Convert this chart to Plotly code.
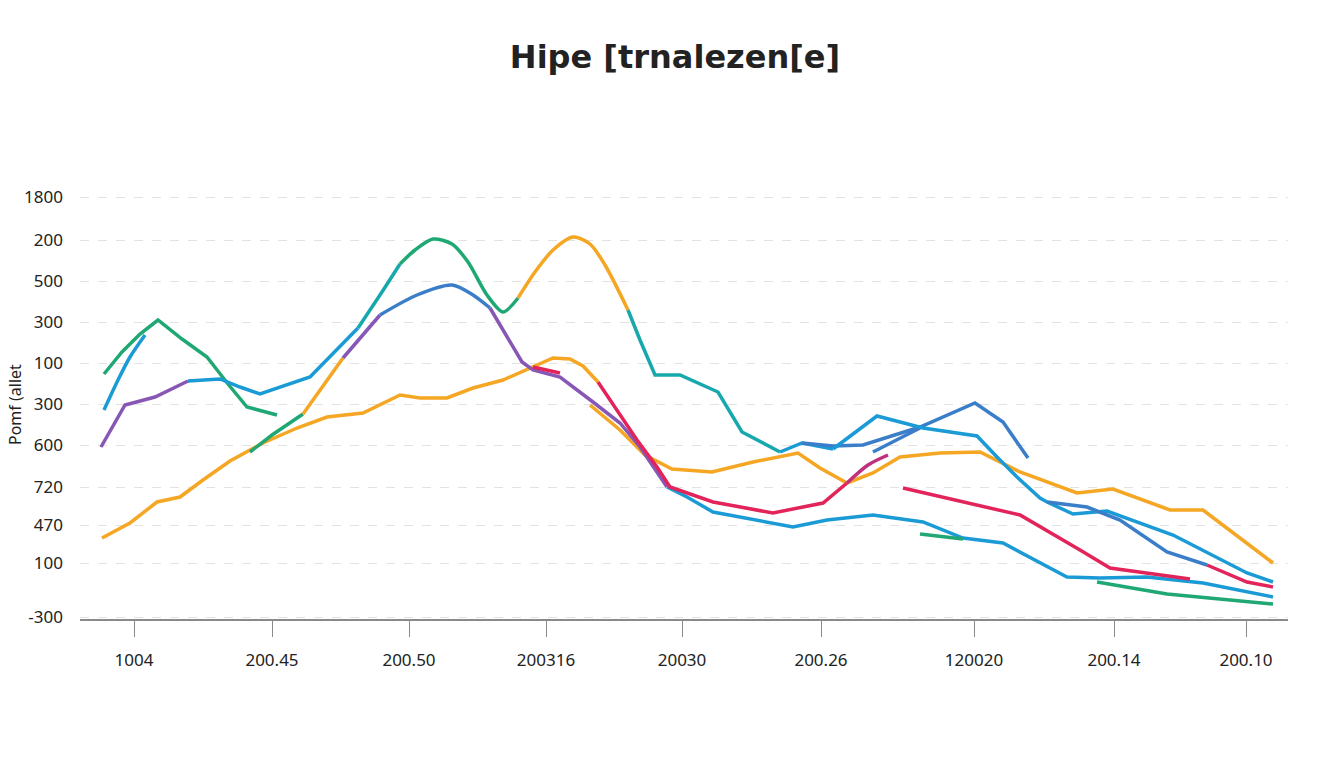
import plotly.graph_objects as go

# ---- axis tick labels (as printed on the chart) ----
x_tick_pos = [134, 272, 409, 546, 682, 821, 974, 1114, 1246]
x_tick_text = ["1004", "200.45", "200.50", "200316", "20030", "200.26", "120020", "200.14", "200.10"]
y_tick_pos = [422, 379, 338, 297, 256, 215, 174, 132, 94, 56, 2]
y_tick_text = ["1800", "200", "500", "300", "100", "300", "600", "720", "470", "100", "-300"]

# ---- colours ----
GREEN = "#1fa874"
TEAL = "#17a8ad"
SKY = "#1b9bd6"
DBLUE = "#3a7ec9"
PURPLE = "#8757b5"
ORANGE = "#f5a623"
RED = "#e2245a"
MAGENTA = "#c0307c"

# ---- series segments (x in axis units, y in axis units) ----
s1_x = [104, 122, 140, 158, 182, 207, 228, 247, 277]
s1_y = [245, 267, 285, 299, 280, 262, 235, 212, 204]
s2_x = [104, 118, 130, 145]
s2_y = [209, 239, 262, 284]
s3_x = [101, 125, 155, 188]
s3_y = [172, 214, 222, 238]
s4_x = [188, 220, 240, 260, 310, 333, 358]
s4_y = [238, 240, 232, 225, 242, 266, 291]
s5_x = [358, 380, 400]
s5_y = [291, 324, 355]
s6_x = [400, 415, 433, 452, 468, 487, 503, 518]
s6_y = [355, 369, 380, 375, 357, 324, 307, 321]
s7_x = [518, 535, 553, 573, 590, 605, 628]
s7_y = [321, 347, 369, 382, 375, 354, 309]
s8_x = [628, 640, 655, 680, 718, 742, 780]
s8_y = [309, 279, 244, 244, 227, 187, 167]
s9_x = [780, 802, 833]
s9_y = [167, 176, 170]
s10_x = [833, 877, 923, 977, 997, 1017, 1040, 1047, 1073, 1107, 1173, 1247, 1273]
s10_y = [170, 203, 191, 183, 162, 142, 121, 117, 105, 108, 84, 46, 37]
s11_x = [802, 833, 863, 920, 975, 1003, 1028]
s11_y = [176, 173, 174, 192, 216, 197, 161]
s12_x = [873, 920]
s12_y = [167, 191]
s13_x = [1047, 1087, 1120, 1167, 1207]
s13_y = [117, 112, 99, 67, 54]
s14_x = [1207, 1247, 1273]
s14_y = [54, 37, 32]
s15_x = [102, 130, 157, 180, 203, 230, 263, 297, 327, 363, 400, 420, 447, 473, 503, 533, 553, 570, 583, 598]
s15_y = [81, 96, 117, 122, 139, 158, 176, 191, 202, 206, 224, 221, 221, 231, 239, 252, 261, 260, 253, 237]
s16_x = [598, 620, 637, 657, 670, 713, 773, 823, 847]
s16_y = [237, 204, 179, 152, 132, 117, 106, 116, 136]
s17_x = [847, 868, 888]
s17_y = [136, 154, 164]
s18a_x = [250, 272, 303]
s18a_y = [167, 184, 205]
s18b_x = [303, 343]
s18b_y = [205, 261]
s18c_x = [343, 380]
s18c_y = [261, 304]
s18d_x = [380, 417, 452, 473, 490]
s18d_y = [304, 324, 334, 324, 311]
s18e_x = [490, 503, 522, 533, 560, 593, 620, 640, 653, 667]
s18e_y = [311, 289, 257, 249, 242, 217, 196, 172, 152, 132]
s18f_x = [667, 687, 713, 747, 793, 827, 873, 923, 963, 1003, 1053, 1067, 1100, 1147, 1203, 1273]
s18f_y = [132, 122, 107, 101, 92, 99, 104, 97, 81, 76, 49, 42, 41, 42, 36, 22]
s19_x = [533, 560]
s19_y = [252, 246]
s20_x = [590, 620, 645, 672, 712, 753, 798, 820, 847, 873, 900, 940, 980, 1020, 1077, 1113, 1170, 1203, 1273]
s20_y = [214, 189, 164, 150, 147, 157, 166, 151, 136, 146, 162, 166, 167, 147, 126, 130, 109, 109, 56]
s21_x = [903, 1020, 1080, 1110, 1190]
s21_y = [131, 104, 69, 51, 40]
s22_x = [920, 963]
s22_y = [85, 80]
s23_x = [1097, 1167, 1273]
s23_y = [37, 25, 15]

segments = [
    (s15_x, s15_y, ORANGE, "linear"),
    (s20_x, s20_y, ORANGE, "linear"),
    (s18a_x, s18a_y, GREEN, "linear"),
    (s18b_x, s18b_y, ORANGE, "linear"),
    (s18c_x, s18c_y, PURPLE, "linear"),
    (s18d_x, s18d_y, DBLUE, "spline"),
    (s18e_x, s18e_y, PURPLE, "linear"),
    (s18f_x, s18f_y, SKY, "linear"),
    (s1_x, s1_y, GREEN, "linear"),
    (s2_x, s2_y, SKY, "spline"),
    (s3_x, s3_y, PURPLE, "linear"),
    (s4_x, s4_y, SKY, "linear"),
    (s5_x, s5_y, TEAL, "spline"),
    (s6_x, s6_y, GREEN, "spline"),
    (s7_x, s7_y, ORANGE, "spline"),
    (s8_x, s8_y, TEAL, "linear"),
    (s9_x, s9_y, SKY, "linear"),
    (s11_x, s11_y, DBLUE, "linear"),
    (s12_x, s12_y, DBLUE, "linear"),
    (s10_x, s10_y, SKY, "linear"),
    (s13_x, s13_y, DBLUE, "linear"),
    (s14_x, s14_y, RED, "linear"),
    (s16_x, s16_y, RED, "linear"),
    (s17_x, s17_y, MAGENTA, "spline"),
    (s19_x, s19_y, RED, "linear"),
    (s21_x, s21_y, RED, "linear"),
    (s22_x, s22_y, GREEN, "linear"),
    (s23_x, s23_y, GREEN, "linear"),
]

fig = go.Figure()
for xs, ys, col, shape in segments:
    fig.add_trace(go.Scatter(
        x=xs, y=ys, mode="lines",
        line=dict(color=col, width=3.5, shape=shape, smoothing=0.8),
        showlegend=False, hoverinfo="skip",
    ))

fig.update_layout(
    width=1344, height=768,
    margin=dict(l=80, r=56, t=190, b=149),
    paper_bgcolor="white", plot_bgcolor="white",
    title=dict(
        text="<b>Hipe [trnalezen[e]</b>",
        x=675 / 1344, xref="container", xanchor="center",
        y=1 - 57 / 768, yref="container", yanchor="middle",
        font=dict(family="DejaVu Sans", size=32, color="#222222"),
    ),
    font=dict(family="Noto Sans", color="#222222"),
)

fig.update_xaxes(
    range=[80, 1288],
    tickmode="array", tickvals=x_tick_pos, ticktext=x_tick_text,
    showgrid=False, zeroline=False,
    showline=True, linecolor="#8a8a8a", linewidth=1.5,
    ticks="outside", ticklen=16, tickcolor="#8a8a8a", tickwidth=1.2,
    ticklabelstandoff=9,
    tickfont=dict(family="Noto Sans", size=17, color="#222222"),
)
fig.update_yaxes(
    range=[0, 429],
    tickmode="array", tickvals=y_tick_pos, ticktext=y_tick_text,
    showgrid=True, gridcolor="#e2e2e2", griddash="dash", gridwidth=1,
    zeroline=False, showline=False, ticks="",
    ticklabelstandoff=16,
    tickfont=dict(family="Noto Sans", size=17, color="#222222"),
)

fig.add_annotation(
    text="Pomf (allet", xref="paper", yref="paper",
    x=(15 - 80) / 1208, y=(619 - 405) / 429,
    xanchor="center", yanchor="middle", textangle=-90, showarrow=False,
    font=dict(family="Noto Sans", size=16, color="#222222"),
)

fig.write_html(
    "out.html",
    config={"displayModeBar": False},
    post_script="document.body.style.margin='0';document.body.style.overflow='hidden';",
)
